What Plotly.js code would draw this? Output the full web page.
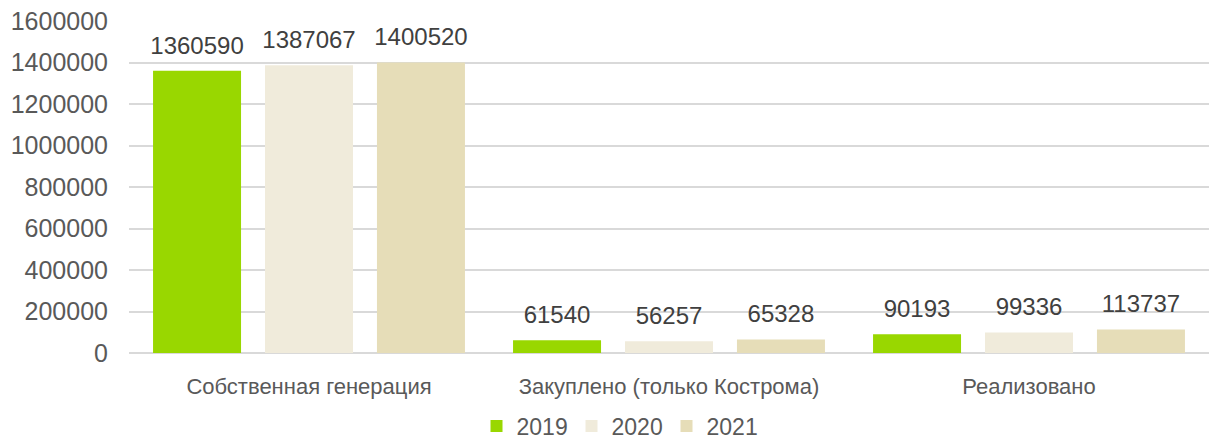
<!DOCTYPE html>
<html><head><meta charset="utf-8">
<script src="https://cdn.plot.ly/plotly-3.0.1.min.js"></script>
<style>html,body{margin:0;padding:0;background:#fff}</style>
</head><body><div id="chart" style="width:1209px;height:443px"></div>
<script>
const categories = ["Собственная генерация", "Закуплено (только Кострома)", "Реализовано"];
const years = ["2019", "2020", "2021"];
const values2019 = [1360590, 61540, 90193];
const values2020 = [1387067, 56257, 99336];
const values2021 = [1400520, 65328, 113737];
const colors = ["#99d700", "#f0ebdb", "#e6ddb8"];
const series = [values2019, values2020, values2021];
const font = "Liberation Sans, Arial, sans-serif";
const traces = series.map((v, i) => ({
  type: "bar", name: years[i], x: categories, y: v,
  offsetgroup: years[i],
  marker: {color: colors[i]},
  hoverinfo: "none"
}));
const labelTraces = series.map((v, i) => ({
  type: "scatter", mode: "markers+text", x: categories, y: v,
  offsetgroup: years[i], showlegend: false,
  marker: {size: 16, opacity: 0, color: colors[i]},
  text: v.map(String), textposition: "top center", cliponaxis: false,
  textfont: {family: font, size: 24, color: "#404040"},
  hoverinfo: "none"
}));
const layout = {
  width: 1209, height: 443,
  margin: {l: 129, r: 0, t: 21, b: 90, autoexpand: false},
  paper_bgcolor: "#fff", plot_bgcolor: "#fff",
  barmode: "group", bargap: 0.067, bargroupgap: 0.214,
  scattermode: "group", scattergap: 0.067,
  font: {family: font, size: 24, color: "#595959"},
  showlegend: true,
  legend: {orientation: "h", xref: "container", yref: "paper", x: 0.512, xanchor: "center", y: -0.155, yanchor: "top",
           font: {size: 23, color: "#595959"}, itemwidth: 30, entrywidth: 50, traceorder: "normal"},
  xaxis: {showgrid: false, showline: false, ticks: "", tickfont: {size: 22, color: "#595959"}, ticklabelstandoff: 18},
  yaxis: {range: [0, 1600000], dtick: 200000, tickformat: "d", showgrid: true, gridcolor: "#d9d9d9", gridwidth: 2,
          zeroline: true, zerolinecolor: "#d9d9d9", zerolinewidth: 2, showline: false,
          tickfont: {size: 25, color: "#595959"}, ticklabelstandoff: 20}
};
Plotly.newPlot("chart", traces.concat(labelTraces), layout, {displayModeBar: false, staticPlot: true});
</script></body></html>
